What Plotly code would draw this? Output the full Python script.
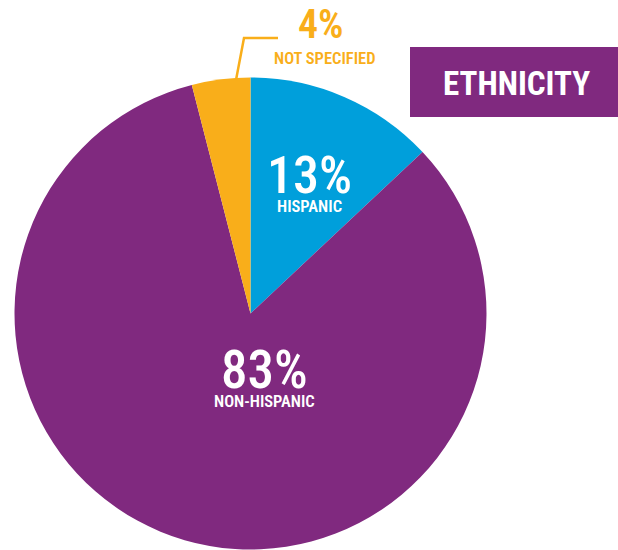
import plotly.graph_objects as go

# Ethnicity breakdown
labels = ["Hispanic", "Non-Hispanic", "Not Specified"]
values = [13, 83, 4]
colors = ["#009FDB", "#80297F", "#F9AE1A"]

W, H = 618, 550
FONT = "Roboto Condensed, DejaVu Sans Condensed, sans-serif"


def px(x):
    return x / W


def py(y):
    return 1 - y / H


fig = go.Figure(
    go.Pie(
        labels=labels,
        values=values,
        sort=False,
        direction="clockwise",
        rotation=0,
        marker=dict(colors=colors, line=dict(width=0)),
        textinfo="none",
        hoverinfo="label+percent",
        showlegend=False,
        domain=dict(x=[px(14.5), px(486.5)], y=[py(549.5), py(77.5)]),
    )
)

shapes = [
    # title box
    dict(type="rect", xref="paper", yref="paper",
         x0=px(410), x1=px(618), y0=py(117), y1=py(47),
         fillcolor="#80297F", line=dict(width=0), layer="above"),
    # leader line to the small slice
    dict(type="path", xref="paper", yref="paper",
         path=f"M {px(278)},{py(38)} L {px(244)},{py(38)} L {px(236)},{py(80)}",
         line=dict(color="#F9AE1A", width=2.5)),
]

ann = []


def label(x, y, text, size, color="white", weight="bold"):
    ann.append(dict(x=px(x), y=py(y), xref="paper", yref="paper", text=text,
                    showarrow=False, xanchor="center", yanchor="middle",
                    font=dict(family=FONT, size=size, color=color, weight=weight)))


def stacked(x, y, pct, name, big, small, color="white"):
    # percentage over its category name, in one text block with tight leading
    text = (f"<span style='font-size:{big}px;font-weight:500'>{pct}%</span><br>"
            f"<span style='font-size:{small}px'>{name}</span>")
    label(x, y, text, 14.6, color, 600)


label(516, 83.5, "ETHNICITY", 33)
label(321, 24.5, "4%", 40, "#F9AE1A", 600)
label(325, 58.5, "NOT SPECIFIED", 16.5, "#F9AE1A", 600)
stacked(309, 180.5, values[0], "HISPANIC", 52, 16.5)
stacked(264, 374.5, values[1], "NON-HISPANIC", 53, 16.5)

fig.update_layout(
    width=W, height=H,
    margin=dict(l=0, r=0, t=0, b=0),
    paper_bgcolor="white",
    plot_bgcolor="white",
    shapes=shapes,
    annotations=ann,
)

fig.write_html("out.html")
